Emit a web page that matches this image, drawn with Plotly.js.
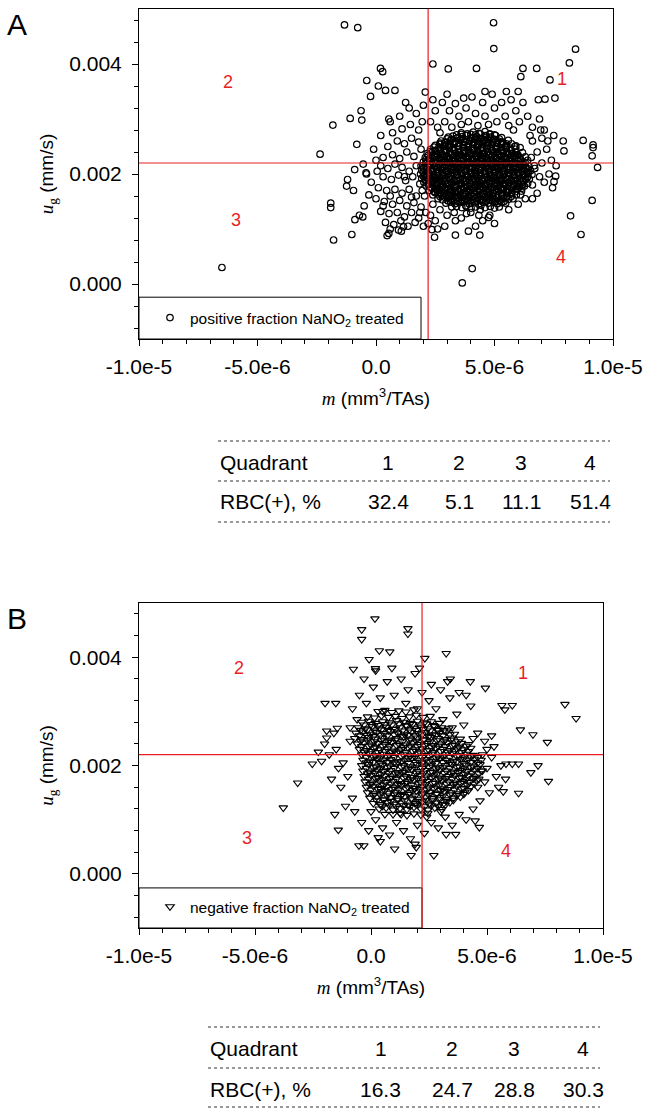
<!DOCTYPE html>
<html>
<head>
<meta charset="utf-8">
<script src="https://cdn.plot.ly/plotly-3.0.1.min.js"></script>
<style>html,body{margin:0;padding:0;background:#fff;}#chart{width:648px;height:1115px;}</style>
</head>
<body>
<div id="chart"></div>
<script>
// ---------- DATA (m in units of 1e-6 mm^3/TAs, u_g in units of 1e-3 mm/s) ----------
const xTickVals = [-1e-5, -5e-6, 0, 5e-6, 1e-5];
const xTickText = ['-1.0e-5', '-5.0e-6', '0.0', '5.0e-6', '1.0e-5'];
const yTickVals = [0, 0.002, 0.004];
const yTickText = ['0.000', '0.002', '0.004'];

const quadrants = ['1', '2', '3', '4'];
const rbcA = [32.4, 5.1, 11.1, 51.4];
const rbcB = [16.3, 24.7, 28.8, 30.3];
const cutA = [2.2e-6, 0.0022];
const cutB = [2.2e-6, 0.0022];

// Panel A: positive fraction, dense core
const posCoreA = [
[3.4,1.41],[3.62,1.39],[3.8,1.42],[4.01,1.38],[4.2,1.40],[4.43,1.43],[4.6,1.39],[4.82,1.41],[5.0,1.38],
[2.95,1.47],[3.15,1.49],[3.33,1.46],[3.55,1.48],[3.74,1.5],[3.93,1.46],[4.15,1.48],[4.33,1.45],[4.52,1.49],[4.74,1.47],[4.93,1.5],[5.12,1.46],[5.3,1.48],[5.47,1.47],
[2.62,1.55],[2.8,1.53],[3.02,1.56],[3.2,1.54],[3.41,1.57],[3.6,1.53],[3.8,1.55],[3.98,1.52],[4.2,1.56],[4.4,1.54],[4.58,1.57],[4.8,1.53],[4.98,1.55],[5.2,1.52],[5.38,1.56],[5.6,1.54],[5.78,1.55],
[2.4,1.62],[2.6,1.64],[2.78,1.61],[3.0,1.63],[3.18,1.6],[3.38,1.64],[3.57,1.62],[3.78,1.65],[3.97,1.61],[4.17,1.63],[4.36,1.6],[4.55,1.64],[4.75,1.62],[4.95,1.65],[5.14,1.61],[5.33,1.63],[5.53,1.6],[5.72,1.64],[5.92,1.62],
[2.25,1.7],[2.45,1.68],[2.63,1.71],[2.84,1.69],[3.03,1.72],[3.22,1.68],[3.43,1.7],[3.62,1.73],[3.82,1.69],[4.0,1.71],[4.22,1.68],[4.4,1.72],[4.6,1.7],[4.8,1.67],[5.0,1.71],[5.18,1.69],[5.38,1.72],[5.58,1.68],[5.77,1.7],[5.96,1.73],[6.14,1.69],
[2.12,1.78],[2.32,1.76],[2.52,1.79],[2.7,1.77],[2.9,1.75],[3.1,1.79],[3.3,1.77],[3.5,1.8],[3.7,1.76],[3.88,1.78],[4.08,1.75],[4.28,1.79],[4.48,1.77],[4.68,1.8],[4.87,1.76],[5.07,1.78],[5.27,1.75],[5.46,1.79],[5.66,1.77],[5.86,1.8],[6.05,1.76],[6.26,1.78],
[2.02,1.85],[2.21,1.83],[2.41,1.86],[2.6,1.84],[2.79,1.87],[3.0,1.83],[3.19,1.85],[3.4,1.88],[3.58,1.84],[3.79,1.86],[3.99,1.83],[4.2,1.87],[4.38,1.85],[4.6,1.82],[4.79,1.86],[5.0,1.84],[5.2,1.87],[5.39,1.83],[5.6,1.85],[5.8,1.88],[6.0,1.84],[6.21,1.86],[6.4,1.83],
[1.93,1.92],[2.12,1.94],[2.3,1.91],[2.5,1.93],[2.69,1.95],[2.9,1.91],[3.1,1.93],[3.29,1.9],[3.5,1.94],[3.68,1.92],[3.9,1.95],[4.1,1.91],[4.3,1.93],[4.49,1.9],[4.7,1.94],[4.9,1.92],[5.1,1.95],[5.3,1.91],[5.49,1.93],[5.7,1.9],[5.9,1.94],[6.1,1.92],[6.3,1.95],[6.47,1.91],
[1.88,2.0],[2.05,1.98],[2.25,2.01],[2.44,1.99],[2.64,2.02],[2.83,1.98],[3.04,2.0],[3.24,2.03],[3.43,1.99],[3.63,2.01],[3.83,1.97],[4.03,2.02],[4.22,2.0],[4.42,1.98],[4.62,2.01],[4.83,1.99],[5.02,2.03],[5.22,1.98],[5.41,2.0],[5.62,2.02],[5.82,1.98],[6.02,2.01],[6.22,1.99],[6.42,2.02],[6.58,1.99],
[1.93,2.07],[2.14,2.09],[2.34,2.06],[2.55,2.08],[2.74,2.1],[2.94,2.06],[3.14,2.08],[3.35,2.05],[3.55,2.09],[3.74,2.07],[3.94,2.1],[4.15,2.06],[4.34,2.08],[4.53,2.05],[4.73,2.09],[4.94,2.07],[5.13,2.1],[5.33,2.06],[5.53,2.08],[5.74,2.05],[5.93,2.09],[6.13,2.07],[6.33,2.1],[6.52,2.06],
[1.9,2.15],[2.08,2.13],[2.28,2.16],[2.47,2.14],[2.67,2.17],[2.87,2.13],[3.07,2.15],[3.27,2.12],[3.46,2.16],[3.66,2.14],[3.86,2.17],[4.06,2.13],[4.26,2.15],[4.46,2.18],[4.65,2.14],[4.85,2.16],[5.05,2.13],[5.25,2.15],[5.45,2.17],[5.65,2.13],[5.85,2.15],[6.05,2.12],[6.25,2.16],[6.45,2.14],[6.68,2.15],
[2.0,2.22],[2.19,2.24],[2.4,2.21],[2.6,2.23],[2.79,2.25],[3.0,2.21],[3.2,2.23],[3.39,2.2],[3.6,2.24],[3.8,2.22],[4.0,2.25],[4.19,2.21],[4.4,2.23],[4.6,2.2],[4.8,2.24],[5.0,2.22],[5.19,2.25],[5.4,2.21],[5.6,2.23],[5.8,2.2],[6.0,2.24],[6.2,2.22],[6.4,2.25],
[2.08,2.3],[2.28,2.28],[2.48,2.31],[2.68,2.29],[2.88,2.32],[3.08,2.28],[3.28,2.3],[3.48,2.33],[3.68,2.29],[3.88,2.31],[4.08,2.27],[4.28,2.32],[4.48,2.3],[4.68,2.28],[4.88,2.31],[5.08,2.29],[5.28,2.32],[5.48,2.28],[5.68,2.3],[5.88,2.33],[6.08,2.29],[6.3,2.31],
[2.16,2.37],[2.36,2.39],[2.56,2.36],[2.76,2.38],[2.96,2.4],[3.16,2.36],[3.36,2.38],[3.56,2.35],[3.76,2.39],[3.96,2.37],[4.16,2.4],[4.36,2.36],[4.56,2.38],[4.76,2.35],[4.96,2.39],[5.16,2.37],[5.36,2.4],[5.56,2.36],[5.76,2.38],[5.96,2.35],[6.18,2.39],
[2.3,2.45],[2.5,2.43],[2.7,2.46],[2.9,2.44],[3.1,2.47],[3.3,2.43],[3.5,2.45],[3.7,2.48],[3.9,2.44],[4.1,2.46],[4.3,2.42],[4.5,2.47],[4.7,2.45],[4.9,2.43],[5.1,2.46],[5.3,2.44],[5.5,2.47],[5.7,2.43],[5.9,2.45],[6.08,2.48],
[2.5,2.52],[2.7,2.54],[2.9,2.51],[3.1,2.53],[3.3,2.55],[3.5,2.51],[3.7,2.53],[3.9,2.5],[4.1,2.54],[4.3,2.52],[4.5,2.55],[4.7,2.51],[4.9,2.53],[5.1,2.5],[5.3,2.54],[5.5,2.52],[5.72,2.55],[5.9,2.51],
[2.75,2.6],[2.95,2.58],[3.15,2.61],[3.35,2.59],[3.55,2.62],[3.75,2.58],[3.95,2.6],[4.15,2.63],[4.35,2.59],[4.55,2.61],[4.75,2.57],[4.95,2.62],[5.15,2.6],[5.35,2.58],[5.58,2.61],
[3.05,2.67],[3.25,2.69],[3.45,2.66],[3.65,2.68],[3.85,2.7],[4.05,2.66],[4.25,2.68],[4.45,2.65],[4.65,2.69],[4.85,2.67],[5.05,2.7],[5.3,2.66],
[3.6,2.75],[3.85,2.73],[4.1,2.76],[4.35,2.74],[4.6,2.77],[4.8,2.73]
];
// Panel A: additional points packed inside the densest part of the core
const posDenseA = [
[3.05,1.51],[3.25,1.52],[3.45,1.5],[3.65,1.52],[3.85,1.51],[4.05,1.53],[4.25,1.5],[4.45,1.52],[4.65,1.51],[4.85,1.53],[5.05,1.5],[5.25,1.52],
[2.7,1.59],[2.9,1.58],[3.1,1.6],[3.3,1.59],[3.5,1.57],[3.7,1.6],[3.9,1.58],[4.1,1.59],[4.3,1.57],[4.5,1.6],[4.7,1.58],[4.9,1.59],[5.1,1.57],[5.3,1.6],[5.5,1.58],[5.7,1.59],
[2.5,1.66],[2.7,1.67],[2.9,1.65],[3.1,1.67],[3.3,1.66],[3.5,1.68],[3.7,1.65],[3.9,1.67],[4.1,1.66],[4.3,1.68],[4.5,1.65],[4.7,1.67],[4.9,1.66],[5.1,1.68],[5.3,1.65],[5.5,1.67],[5.7,1.66],[5.9,1.68],
[2.35,1.74],[2.55,1.73],[2.75,1.75],[2.95,1.74],[3.15,1.72],[3.35,1.75],[3.55,1.73],[3.75,1.74],[3.95,1.72],[4.15,1.75],[4.35,1.73],[4.55,1.74],[4.75,1.72],[4.95,1.75],[5.15,1.73],[5.35,1.74],[5.55,1.72],[5.75,1.75],[5.95,1.73],[6.15,1.74],
[2.2,1.81],[2.4,1.82],[2.6,1.8],[2.8,1.82],[3.0,1.81],[3.2,1.83],[3.4,1.8],[3.6,1.82],[3.8,1.81],[4.0,1.83],[4.2,1.8],[4.4,1.82],[4.6,1.81],[4.8,1.83],[5.0,1.8],[5.2,1.82],[5.4,1.81],[5.6,1.83],[5.8,1.8],[6.0,1.82],[6.2,1.81],
[2.1,1.89],[2.3,1.88],[2.5,1.9],[2.7,1.89],[2.9,1.87],[3.1,1.9],[3.3,1.88],[3.5,1.89],[3.7,1.87],[3.9,1.9],[4.1,1.88],[4.3,1.89],[4.5,1.87],[4.7,1.9],[4.9,1.88],[5.1,1.89],[5.3,1.87],[5.5,1.9],[5.7,1.88],[5.9,1.89],[6.1,1.87],[6.3,1.9],
[2.0,1.96],[2.2,1.97],[2.4,1.95],[2.6,1.97],[2.8,1.96],[3.0,1.98],[3.2,1.95],[3.4,1.97],[3.6,1.96],[3.8,1.98],[4.0,1.95],[4.2,1.97],[4.4,1.96],[4.6,1.98],[4.8,1.95],[5.0,1.97],[5.2,1.96],[5.4,1.98],[5.6,1.95],[5.8,1.97],[6.0,1.96],[6.2,1.98],[6.4,1.95],
[2.0,2.04],[2.2,2.03],[2.4,2.05],[2.6,2.04],[2.8,2.02],[3.0,2.05],[3.2,2.03],[3.4,2.04],[3.6,2.02],[3.8,2.05],[4.0,2.03],[4.2,2.04],[4.4,2.02],[4.6,2.05],[4.8,2.03],[5.0,2.04],[5.2,2.02],[5.4,2.05],[5.6,2.03],[5.8,2.04],[6.0,2.02],[6.2,2.05],[6.4,2.03],
[2.0,2.11],[2.2,2.12],[2.4,2.1],[2.6,2.12],[2.8,2.11],[3.0,2.13],[3.2,2.1],[3.4,2.12],[3.6,2.11],[3.8,2.13],[4.0,2.1],[4.2,2.12],[4.4,2.11],[4.6,2.13],[4.8,2.1],[5.0,2.12],[5.2,2.11],[5.4,2.13],[5.6,2.1],[5.8,2.12],[6.0,2.11],[6.2,2.13],[6.4,2.1],
[2.1,2.19],[2.3,2.18],[2.5,2.2],[2.7,2.19],[2.9,2.17],[3.1,2.2],[3.3,2.18],[3.5,2.19],[3.7,2.17],[3.9,2.2],[4.1,2.18],[4.3,2.19],[4.5,2.17],[4.7,2.2],[4.9,2.18],[5.1,2.19],[5.3,2.17],[5.5,2.2],[5.7,2.18],[5.9,2.19],[6.1,2.17],[6.3,2.2],
[2.1,2.26],[2.3,2.27],[2.5,2.25],[2.7,2.27],[2.9,2.26],[3.1,2.28],[3.3,2.25],[3.5,2.27],[3.7,2.26],[3.9,2.28],[4.1,2.25],[4.3,2.27],[4.5,2.26],[4.7,2.28],[4.9,2.25],[5.1,2.27],[5.3,2.26],[5.5,2.28],[5.7,2.25],[5.9,2.27],[6.1,2.26],
[2.2,2.34],[2.4,2.33],[2.6,2.35],[2.8,2.34],[3.0,2.32],[3.2,2.35],[3.4,2.33],[3.6,2.34],[3.8,2.32],[4.0,2.35],[4.2,2.33],[4.4,2.34],[4.6,2.32],[4.8,2.35],[5.0,2.33],[5.2,2.34],[5.4,2.32],[5.6,2.35],[5.8,2.33],[6.0,2.34],
[2.3,2.41],[2.5,2.42],[2.7,2.4],[2.9,2.42],[3.1,2.41],[3.3,2.43],[3.5,2.4],[3.7,2.42],[3.9,2.41],[4.1,2.43],[4.3,2.4],[4.5,2.42],[4.7,2.41],[4.9,2.43],[5.1,2.4],[5.3,2.42],[5.5,2.41],[5.7,2.43],[5.9,2.4],
[2.45,2.49],[2.65,2.48],[2.85,2.5],[3.05,2.49],[3.25,2.47],[3.45,2.5],[3.65,2.48],[3.85,2.49],[4.05,2.47],[4.25,2.5],[4.45,2.48],[4.65,2.49],[4.85,2.47],[5.05,2.5],[5.25,2.48],[5.45,2.49],[5.65,2.47],[5.85,2.5],
[2.7,2.56],[2.9,2.57],[3.1,2.55],[3.3,2.57],[3.5,2.56],[3.7,2.58],[3.9,2.55],[4.1,2.57],[4.3,2.56],[4.5,2.58],[4.7,2.55],[4.9,2.57],[5.1,2.56],[5.3,2.58],[5.5,2.55],
[3.0,2.64],[3.2,2.63],[3.4,2.65],[3.6,2.64],[3.8,2.62],[4.0,2.65],[4.2,2.63],[4.4,2.64],[4.6,2.62],[4.8,2.65],[5.0,2.63],[5.2,2.64],
[3.4,2.71],[3.6,2.72],[3.8,2.7],[4.0,2.72],[4.2,2.71],[4.4,2.73],[4.6,2.7],[4.8,2.72],[5.0,2.71]
];
// Panel A: scattered points around the core
const posSpreadA = [
[0.2,2.15],[0.5,2.1],[0.8,2.18],[1.1,2.12],[1.4,2.05],[1.7,2.15],[0.3,1.95],[0.65,1.9],[0.95,1.98],[1.25,1.88],[1.55,1.95],[1.85,1.82],[-0.2,1.85],[0.1,1.75],[0.45,1.7],[0.8,1.72],[1.1,1.65],[1.4,1.72],[1.7,1.6],[0.0,1.55],[0.35,1.5],[0.7,1.45],[1.0,1.52],[1.3,1.42],[1.6,1.48],[1.9,1.4],[-0.3,1.62],[0.2,1.32],[0.55,1.28],[0.9,1.3],[1.2,1.22],[1.5,1.3],[1.8,1.2],[0.4,1.12],[0.75,1.08],[1.05,1.15],[1.35,1.05],[1.65,1.12],[2.0,1.05],[0.6,1.0],[-0.5,1.42],[-0.7,1.25],[0.95,0.98],[2.05,1.6],[2.1,1.3],[-0.4,2.0],[-0.9,2.08],[-1.2,1.9],[0.05,2.05],[1.95,1.7],[1.2,1.95],[0.6,1.6],[1.5,1.58],[0.3,1.42],[1.85,1.3],
[0.3,2.3],[0.7,2.35],[1.0,2.28],[1.3,2.4],[1.6,2.32],[1.9,2.45],[0.5,2.5],[0.9,2.6],[1.2,2.55],[1.5,2.65],[1.8,2.58],[0.2,2.7],[0.7,2.75],[1.1,2.82],[1.45,2.9],[1.8,2.8],[1.0,3.05],[1.4,3.2],[1.7,3.1],[2.0,3.25],[0.6,2.95],[-0.1,2.45],[0.0,2.25],[1.95,2.95],[1.25,3.3],
[2.3,2.95],[2.5,3.15],[2.6,2.85],[2.8,3.3],[2.9,2.95],[3.1,3.15],[3.2,2.85],[3.35,3.28],[3.5,3.05],[3.6,2.9],[3.8,3.2],[3.9,2.95],[4.05,3.4],[4.2,3.1],[4.3,2.88],[4.5,3.3],[4.6,3.05],[4.75,2.9],[4.9,3.45],[5.0,3.2],[5.1,2.95],[5.3,3.3],[5.45,3.05],[5.6,2.88],[5.7,3.35],[5.9,3.15],[6.05,2.95],[6.2,3.3],[6.4,3.05],[6.6,2.85],[6.9,3.0],[7.1,2.8],[3.0,3.45],[4.6,3.5],[5.5,3.5],[2.4,3.35],[3.7,3.38],[6.0,3.5],[2.7,2.75],[5.8,2.8],
[6.6,2.6],[6.8,2.4],[7.0,2.2],[6.7,2.1],[6.9,1.95],[6.6,1.8],[7.2,2.45],[7.4,2.25],[7.1,1.85],[6.8,1.65],[7.3,2.0],[6.5,2.7],[7.0,2.65],[7.5,2.7],[7.6,2.15],[6.6,1.55],[6.95,2.8],[7.25,2.6],[6.55,2.3],[7.45,1.75],
[2.4,1.45],[2.7,1.35],[3.0,1.25],[2.5,1.15],[2.9,1.05],[3.3,1.3],[3.6,1.2],[4.0,1.3],[4.4,1.35],[4.8,1.25],[5.2,1.4],[5.6,1.35],[6.0,1.45],[6.3,1.55],[5.0,1.1],[4.5,1.15],[3.2,1.4],[2.3,1.25],[5.4,1.5],[6.1,1.62],[2.6,1.0],[3.8,1.42],[4.2,1.05],[2.2,1.1]
];
// Panel A: isolated outliers
const posOutA = [
[-1.33,4.71],[-0.77,4.66],[4.96,4.75],[4.97,4.28],[8.42,4.27],[8.16,4.02],[2.40,4.0],[3.05,3.91],[4.24,3.92],[6.2,3.92],[6.78,3.92],[6.11,3.77],[7.34,3.71],[0.19,3.92],[0.28,3.86],[-0.39,3.70],[0.1,3.6],[0.4,3.52],[0.8,3.52],[-0.23,3.41],[2.08,3.49],[7.55,3.38],[7.13,3.36],[6.85,3.35],[-0.63,3.15],[-1.09,3.01],[-1.82,2.89],[-0.6,2.98],[0.54,3.0],[-0.81,2.54],[-2.36,2.36],[7.9,2.6],[8.74,2.61],[9.16,2.53],[9.16,2.48],[9.12,2.33],[7.93,2.42],[9.35,2.12],[7.58,1.96],[7.51,1.86],[9.12,1.52],[8.21,1.24],[8.65,0.9],[4.06,0.28],[3.64,0.02],[-6.5,0.30],[-1.79,0.8],[-1.02,0.9],[-1.91,1.47],[-1.91,1.39],[-1.24,1.78],[-0.95,1.70],[-0.54,2.18],[-0.42,2.02],[-0.56,1.22],[-0.89,1.17],[0.47,0.88],[0.54,0.92],[2.47,0.85],[3.35,0.89],[3.9,0.96],[4.38,0.89],[3.35,1.15],[4.75,1.21],[4.34,1.25],[3.82,1.28],[2.36,0.99],[1.07,0.96],[1.16,1.04]
];

// Panel B: negative fraction, core
const negCoreB = [
[0.95,1.1],[1.25,1.12],[1.55,1.08],[1.85,1.11],[2.15,1.09],[2.45,1.12],
[0.35,1.2],[0.65,1.22],[0.95,1.18],[1.25,1.21],[1.55,1.19],[1.85,1.23],[2.15,1.2],[2.45,1.18],[2.75,1.22],[3.05,1.19],
[0.1,1.3],[0.4,1.28],[0.7,1.32],[1.0,1.29],[1.3,1.31],[1.6,1.27],[1.9,1.3],[2.2,1.33],[2.5,1.29],[2.8,1.31],[3.1,1.28],[3.4,1.32],
[-0.05,1.4],[0.25,1.42],[0.55,1.38],[0.85,1.41],[1.15,1.39],[1.45,1.43],[1.75,1.4],[2.05,1.38],[2.35,1.42],[2.65,1.39],[2.95,1.41],[3.25,1.37],[3.55,1.4],[3.85,1.42],
[-0.15,1.5],[0.15,1.48],[0.45,1.52],[0.75,1.49],[1.05,1.51],[1.35,1.47],[1.65,1.5],[1.95,1.53],[2.25,1.49],[2.55,1.51],[2.85,1.48],[3.15,1.52],[3.45,1.5],[3.75,1.48],[4.05,1.51],
[-0.2,1.6],[0.1,1.62],[0.4,1.58],[0.7,1.61],[1.0,1.59],[1.3,1.63],[1.6,1.6],[1.9,1.58],[2.2,1.62],[2.5,1.59],[2.8,1.61],[3.1,1.57],[3.4,1.6],[3.7,1.62],[4.0,1.58],[4.3,1.61],
[-0.25,1.7],[0.05,1.68],[0.35,1.72],[0.65,1.69],[0.95,1.71],[1.25,1.67],[1.55,1.7],[1.85,1.73],[2.15,1.69],[2.45,1.71],[2.75,1.68],[3.05,1.72],[3.35,1.7],[3.65,1.68],[3.95,1.71],[4.25,1.69],[4.55,1.72],
[-0.3,1.8],[0.0,1.82],[0.3,1.78],[0.6,1.81],[0.9,1.79],[1.2,1.83],[1.5,1.8],[1.8,1.78],[2.1,1.82],[2.4,1.79],[2.7,1.81],[3.0,1.77],[3.3,1.8],[3.6,1.82],[3.9,1.78],[4.2,1.81],[4.5,1.79],
[-0.35,1.9],[-0.05,1.88],[0.25,1.92],[0.55,1.89],[0.85,1.91],[1.15,1.87],[1.45,1.9],[1.75,1.93],[2.05,1.89],[2.35,1.91],[2.65,1.88],[2.95,1.92],[3.25,1.9],[3.55,1.88],[3.85,1.91],[4.15,1.89],[4.45,1.92],[4.75,1.9],
[-0.4,2.0],[-0.1,2.02],[0.2,1.98],[0.5,2.01],[0.8,1.99],[1.1,2.03],[1.4,2.0],[1.7,1.98],[2.0,2.02],[2.3,1.99],[2.6,2.01],[2.9,1.97],[3.2,2.0],[3.5,2.02],[3.8,1.98],[4.1,2.01],[4.4,1.99],[4.7,2.02],
[-0.35,2.1],[-0.05,2.08],[0.25,2.12],[0.55,2.09],[0.85,2.11],[1.15,2.07],[1.45,2.1],[1.75,2.13],[2.05,2.09],[2.35,2.11],[2.65,2.08],[2.95,2.12],[3.25,2.1],[3.55,2.08],[3.85,2.11],[4.15,2.09],[4.45,2.12],[4.75,2.1],
[-0.4,2.2],[-0.1,2.22],[0.2,2.18],[0.5,2.21],[0.8,2.19],[1.1,2.23],[1.4,2.2],[1.7,2.18],[2.0,2.22],[2.3,2.19],[2.6,2.21],[2.9,2.17],[3.2,2.2],[3.5,2.22],[3.8,2.18],[4.1,2.21],[4.4,2.19],
[-0.5,2.3],[-0.2,2.28],[0.1,2.32],[0.4,2.29],[0.7,2.31],[1.0,2.27],[1.3,2.3],[1.6,2.33],[1.9,2.29],[2.2,2.31],[2.5,2.28],[2.8,2.32],[3.1,2.3],[3.4,2.28],[3.7,2.31],[4.0,2.29],[4.3,2.32],
[-0.6,2.4],[-0.3,2.42],[0.0,2.38],[0.3,2.41],[0.6,2.39],[0.9,2.43],[1.2,2.4],[1.5,2.38],[1.8,2.42],[2.1,2.39],[2.4,2.41],[2.7,2.37],[3.0,2.4],[3.3,2.42],[3.6,2.38],[3.9,2.41],[4.2,2.39],
[-0.7,2.5],[-0.4,2.48],[-0.1,2.52],[0.2,2.49],[0.5,2.51],[0.8,2.47],[1.1,2.5],[1.4,2.53],[1.7,2.49],[2.0,2.51],[2.3,2.48],[2.6,2.52],[2.9,2.5],[3.2,2.48],[3.5,2.51],[3.85,2.49],
[-0.65,2.6],[-0.35,2.62],[-0.05,2.58],[0.25,2.61],[0.55,2.59],[0.85,2.63],[1.15,2.6],[1.45,2.58],[1.75,2.62],[2.05,2.59],[2.35,2.61],[2.65,2.57],[2.95,2.6],[3.25,2.62],[3.6,2.58],
[-0.55,2.7],[-0.25,2.68],[0.05,2.72],[0.35,2.69],[0.65,2.71],[0.95,2.67],[1.25,2.7],[1.55,2.73],[1.85,2.69],[2.15,2.71],[2.45,2.68],[2.75,2.72],[3.05,2.7],[3.35,2.68],
[-0.4,2.8],[-0.1,2.82],[0.2,2.78],[0.5,2.81],[0.8,2.79],[1.1,2.83],[1.4,2.8],[1.7,2.78],[2.0,2.82],[2.3,2.79],[2.6,2.81],[2.95,2.78],
[-0.15,2.9],[0.15,2.88],[0.45,2.92],[0.75,2.89],[1.05,2.91],[1.35,2.87],[1.65,2.9],[1.95,2.93],[2.25,2.89],[2.55,2.91],
[0.3,3.0],[0.6,3.02],[0.9,2.98],[1.2,3.01],[1.5,2.99],[1.85,3.03]
];
// Panel B: additional points packed inside the densest part
const negDenseB = [
[0.5,1.25],[0.8,1.26],[1.1,1.24],[1.4,1.26],[1.7,1.25],[2.0,1.27],[2.3,1.24],[2.6,1.26],[2.9,1.25],[3.2,1.27],
[0.25,1.35],[0.55,1.36],[0.85,1.34],[1.15,1.36],[1.45,1.35],[1.75,1.37],[2.05,1.34],[2.35,1.36],[2.65,1.35],[2.95,1.37],[3.25,1.34],[3.55,1.36],
[0.1,1.45],[0.4,1.46],[0.7,1.44],[1.0,1.46],[1.3,1.45],[1.6,1.47],[1.9,1.44],[2.2,1.46],[2.5,1.45],[2.8,1.47],[3.1,1.44],[3.4,1.46],[3.7,1.45],[4.0,1.47],
[0.0,1.55],[0.3,1.56],[0.6,1.54],[0.9,1.56],[1.2,1.55],[1.5,1.57],[1.8,1.54],[2.1,1.56],[2.4,1.55],[2.7,1.57],[3.0,1.54],[3.3,1.56],[3.6,1.55],[3.9,1.57],[4.2,1.54],
[-0.05,1.65],[0.25,1.66],[0.55,1.64],[0.85,1.66],[1.15,1.65],[1.45,1.67],[1.75,1.64],[2.05,1.66],[2.35,1.65],[2.65,1.67],[2.95,1.64],[3.25,1.66],[3.55,1.65],[3.85,1.67],[4.15,1.64],[4.45,1.66],
[-0.1,1.75],[0.2,1.76],[0.5,1.74],[0.8,1.76],[1.1,1.75],[1.4,1.77],[1.7,1.74],[2.0,1.76],[2.3,1.75],[2.6,1.77],[2.9,1.74],[3.2,1.76],[3.5,1.75],[3.8,1.77],[4.1,1.74],[4.4,1.76],[4.65,1.75],
[-0.15,1.85],[0.15,1.86],[0.45,1.84],[0.75,1.86],[1.05,1.85],[1.35,1.87],[1.65,1.84],[1.95,1.86],[2.25,1.85],[2.55,1.87],[2.85,1.84],[3.15,1.86],[3.45,1.85],[3.75,1.87],[4.05,1.84],[4.35,1.86],[4.65,1.85],
[-0.2,1.95],[0.1,1.96],[0.4,1.94],[0.7,1.96],[1.0,1.95],[1.3,1.97],[1.6,1.94],[1.9,1.96],[2.2,1.95],[2.5,1.97],[2.8,1.94],[3.1,1.96],[3.4,1.95],[3.7,1.97],[4.0,1.94],[4.3,1.96],[4.6,1.95],
[-0.2,2.05],[0.1,2.06],[0.4,2.04],[0.7,2.06],[1.0,2.05],[1.3,2.07],[1.6,2.04],[1.9,2.06],[2.2,2.05],[2.5,2.07],[2.8,2.04],[3.1,2.06],[3.4,2.05],[3.7,2.07],[4.0,2.04],[4.3,2.06],[4.6,2.05],
[-0.2,2.15],[0.1,2.16],[0.4,2.14],[0.7,2.16],[1.0,2.15],[1.3,2.17],[1.6,2.14],[1.9,2.16],[2.2,2.15],[2.5,2.17],[2.8,2.14],[3.1,2.16],[3.4,2.15],[3.7,2.17],[4.0,2.14],[4.3,2.16],[4.6,2.15],
[-0.3,2.25],[0.0,2.26],[0.3,2.24],[0.6,2.26],[0.9,2.25],[1.2,2.27],[1.5,2.24],[1.8,2.26],[2.1,2.25],[2.4,2.27],[2.7,2.24],[3.0,2.26],[3.3,2.25],[3.6,2.27],[3.9,2.24],[4.2,2.26],
[-0.4,2.35],[-0.1,2.36],[0.2,2.34],[0.5,2.36],[0.8,2.35],[1.1,2.37],[1.4,2.34],[1.7,2.36],[2.0,2.35],[2.3,2.37],[2.6,2.34],[2.9,2.36],[3.2,2.35],[3.5,2.37],[3.8,2.34],[4.1,2.36],
[-0.45,2.45],[-0.15,2.46],[0.15,2.44],[0.45,2.46],[0.75,2.45],[1.05,2.47],[1.35,2.44],[1.65,2.46],[1.95,2.45],[2.25,2.47],[2.55,2.44],[2.85,2.46],[3.15,2.45],[3.45,2.47],[3.75,2.44],
[-0.5,2.55],[-0.2,2.56],[0.1,2.54],[0.4,2.56],[0.7,2.55],[1.0,2.57],[1.3,2.54],[1.6,2.56],[1.9,2.55],[2.2,2.57],[2.5,2.54],[2.8,2.56],[3.1,2.55],[3.4,2.57],
[-0.45,2.65],[-0.15,2.66],[0.15,2.64],[0.45,2.66],[0.75,2.65],[1.05,2.67],[1.35,2.64],[1.65,2.66],[1.95,2.65],[2.25,2.67],[2.55,2.64],[2.85,2.66],[3.15,2.65],
[-0.3,2.75],[0.0,2.76],[0.3,2.74],[0.6,2.76],[0.9,2.75],[1.2,2.77],[1.5,2.74],[1.8,2.76],[2.1,2.75],[2.4,2.77],[2.7,2.74]
];
// Panel B: scattered points around the core
const negSpreadB = [
[-0.8,3.05],[-0.5,3.3],[-0.2,3.15],[0.1,3.45],[0.4,3.25],[0.7,3.55],[1.0,3.3],[1.3,3.6],[1.6,3.4],[1.9,3.7],[2.2,3.35],[2.5,3.2],[-0.3,3.6],[0.2,3.75],[0.9,3.8],[1.5,3.15],[2.0,3.05],[-0.6,2.85],[2.6,3.5],[0.5,3.0],
[2.8,3.05],[3.1,2.85],[3.4,3.25],[3.0,3.4],[3.7,2.95],[4.0,2.75],[4.3,3.1],[3.5,2.7],[4.6,2.6],[4.9,2.45],[4.4,2.5],[3.8,3.35],[5.2,2.55],[4.1,3.3],[3.3,3.55],[2.9,2.65],
[-1.5,2.3],[-1.2,2.05],[-0.9,2.45],[-1.0,1.8],[-1.3,1.6],[-0.8,1.4],[-1.6,2.6],[-1.8,2.2],[-0.9,2.7],[-1.1,1.25],[-1.4,1.95],[-0.7,1.15],[-2.0,2.4],[-1.7,1.75],
[4.8,2.2],[5.0,1.95],[5.2,2.15],[4.9,1.7],[5.4,1.8],[5.1,1.5],[4.7,1.35],[5.6,2.0],[5.3,2.35],[4.8,1.9],[5.0,2.3],[4.6,1.6],[5.5,1.6],[5.8,1.75],
[-0.4,0.95],[-0.1,0.8],[0.2,1.0],[0.5,0.85],[0.8,0.72],[1.1,0.95],[1.4,0.8],[1.7,0.65],[2.0,0.9],[2.3,0.75],[2.6,0.95],[2.9,0.85],[3.2,1.05],[3.5,0.9],[3.8,1.1],[4.1,1.0],[4.4,1.2],[0.0,1.15],[0.6,1.1],[1.3,1.1],[2.4,1.05],[3.0,1.15],[1.9,0.55],[0.4,0.6]
];
// Panel B: isolated outliers
const negOutB = [
[0.17,4.71],[-0.4,4.51],[-0.4,4.33],[1.59,4.53],[1.59,4.43],[3.24,4.07],[0.36,4.12],[0.81,4.1],[2.32,3.98],[2.09,3.8],[-0.08,3.96],[0.19,3.79],[-0.76,3.78],[-1.98,3.15],[-1.52,3.15],[8.36,3.13],[8.84,2.87],[7.6,2.43],[6.98,2.57],[6.44,2.66],[6.09,3.11],[5.64,3.11],[5.77,3.03],[4.93,3.43],[4.28,3.55],[3.42,3.6],[7.65,1.71],[7.2,2.0],[6.89,1.87],[6.36,1.49],[5.7,1.52],[6.36,2.03],[5.82,2.03],[6.09,2.03],[-3.16,1.68],[-3.78,1.22],[-2.53,2.03],[-2.27,2.25],[-2.13,2.08],[-1.91,2.64],[-1.91,2.51],[-1.45,2.69],[-0.52,0.52],[-0.31,0.52],[1.73,0.34],[2.71,0.34],[1.95,0.49],[1.02,0.46],[0.31,0.67],[-1.56,1.1],[-1.41,0.81],[4.67,0.86],[4.49,0.98],[3.65,0.73],[3.24,0.73]
];

// ---------- BUILD ----------
const M_UNIT = 1e-6, U_UNIT = 1e-3;
const ptsA = posCoreA.concat(posDenseA, posSpreadA, posOutA);
const ptsB = negCoreB.concat(negDenseB, negSpreadB, negOutB);

const W = 648, H = 1115;
const px = v => v / W;
const py = v => 1 - v / H;
const RED = 'rgb(232,30,36)';
const FONT = 'Liberation Sans, Arial, sans-serif';
const SERIF = 'Liberation Serif, Times New Roman, serif';

const traces = [
  {
    type: 'scatter', mode: 'markers', name: 'positive fraction NaNO<sub>2</sub> treated',
    x: ptsA.map(p => p[0] * M_UNIT), y: ptsA.map(p => p[1] * U_UNIT),
    xaxis: 'x', yaxis: 'y', legend: 'legend',
    marker: {symbol: 'circle-open', size: 6.5, color: '#000', line: {width: 1.2, color: '#000'}},
    hoverinfo: 'skip'
  },
  {
    type: 'scatter', mode: 'markers', name: 'negative fraction NaNO<sub>2</sub> treated',
    x: ptsB.map(p => p[0] * M_UNIT), y: ptsB.map(p => p[1] * U_UNIT),
    xaxis: 'x2', yaxis: 'y2', legend: 'legend2',
    marker: {symbol: 'triangle-down-open', size: 7.5, color: '#000', line: {width: 1.1, color: '#000'}},
    hoverinfo: 'skip'
  }
];

function xAxis(domain, anchor) {
  return {
    domain: domain, anchor: anchor, range: [-1e-5, 1e-5],
    tickmode: 'array', tickvals: xTickVals, ticktext: xTickText,
    ticks: 'outside', ticklen: 6, tickwidth: 1, tickcolor: '#000',
    minor: {ticks: 'outside', ticklen: 4, tickwidth: 1, tickcolor: '#000', tick0: 0, dtick: 1e-6, showgrid: false},
    showline: true, linecolor: '#000', linewidth: 1, mirror: true,
    showgrid: false, zeroline: false,
    tickfont: {family: FONT, size: 21, color: '#000'},
    ticklabelstandoff: 3,
    title: {text: '<span style="font-family:' + SERIF + '"><i>m</i></span> (mm<sup>3</sup>/TAs)',
            font: {family: FONT, size: 19, color: '#000'}, standoff: 14}
  };
}
function yAxis(domain, anchor) {
  return {
    domain: domain, anchor: anchor, range: [-0.001, 0.005],
    tickmode: 'array', tickvals: yTickVals, ticktext: yTickText,
    ticks: 'outside', ticklen: 6, tickwidth: 1, tickcolor: '#000',
    minor: {ticks: 'outside', ticklen: 4, tickwidth: 1, tickcolor: '#000', tick0: 0, dtick: 0.0004, showgrid: false},
    showline: true, linecolor: '#000', linewidth: 1, mirror: true,
    showgrid: false, zeroline: false,
    tickfont: {family: FONT, size: 21, color: '#000'},
    ticklabelstandoff: 6,
    title: {text: '<span style="font-family:' + SERIF + '"><i>u</i><sub>g</sub></span> (mm/s)',
            font: {family: FONT, size: 19, color: '#000'}, standoff: 10}
  };
}

const shapes = [];
// legend boxes (data coords)
shapes.push({type: 'rect', xref: 'x', yref: 'y', x0: -1e-5, x1: 1.9e-6, y0: -0.001, y1: -0.00024,
             line: {color: '#000', width: 1}, fillcolor: 'rgba(0,0,0,0)', layer: 'above'});
shapes.push({type: 'rect', xref: 'x2', yref: 'y2', x0: -1e-5, x1: 2.2e-6, y0: -0.001, y1: -0.00026,
             line: {color: '#000', width: 1}, fillcolor: 'rgba(0,0,0,0)', layer: 'above'});
// quadrant dividing lines
shapes.push({type: 'line', xref: 'x', yref: 'paper', x0: cutA[0], x1: cutA[0], y0: py(339), y1: py(9), line: {color: RED, width: 1.2}, layer: 'above'});
shapes.push({type: 'line', xref: 'paper', yref: 'y', x0: px(139), x1: px(613), y0: cutA[1], y1: cutA[1], line: {color: RED, width: 1.2}, layer: 'above'});
shapes.push({type: 'line', xref: 'x2', yref: 'paper', x0: cutB[0], x1: cutB[0], y0: py(928), y1: py(603), line: {color: RED, width: 1.2}, layer: 'above'});
shapes.push({type: 'line', xref: 'paper', yref: 'y2', x0: px(139), x1: px(603), y0: cutB[1], y1: cutB[1], line: {color: RED, width: 1.2}, layer: 'above'});

// tables
const tables = [
  {vals: rbcA, left: 218, right: 610, lines: [441, 481, 522], rows: [462, 502], cols: [388, 459, 521, 590]},
  {vals: rbcB, left: 208, right: 600, lines: [1027, 1068, 1107], rows: [1048, 1089], cols: [381, 452, 514, 583]}
];
const annotations = [];
tables.forEach(t => {
  t.lines.forEach(yy => shapes.push({type: 'line', xref: 'paper', yref: 'paper', x0: px(t.left), x1: px(t.right),
    y0: py(yy), y1: py(yy), line: {color: '#333', width: 1, dash: '3px,3px'}}));
  const tf = {family: FONT, size: 21, color: '#000'};
  annotations.push({xref: 'paper', yref: 'paper', x: px(t.left), y: py(t.rows[0]), xanchor: 'left', yanchor: 'middle', text: 'Quadrant', showarrow: false, font: tf});
  annotations.push({xref: 'paper', yref: 'paper', x: px(t.left), y: py(t.rows[1]), xanchor: 'left', yanchor: 'middle', text: 'RBC(+), %', showarrow: false, font: tf});
  quadrants.forEach((q, i) => {
    annotations.push({xref: 'paper', yref: 'paper', x: px(t.cols[i]), y: py(t.rows[0]), xanchor: 'center', yanchor: 'middle', text: q, showarrow: false, font: tf});
    annotations.push({xref: 'paper', yref: 'paper', x: px(t.cols[i]), y: py(t.rows[1]), xanchor: 'center', yanchor: 'middle', text: t.vals[i].toFixed(1), showarrow: false, font: tf});
  });
});

// quadrant numbers
const qf = {family: FONT, size: 18, color: RED};
const qPosA = [[7.85e-6, 0.00373], [-6.25e-6, 0.00367], [-5.9e-6, 0.00116], [7.8e-6, 0.00049]];
const qPosB = [[6.53e-6, 0.0037], [-5.68e-6, 0.0038], [-5.34e-6, 0.00066], [5.82e-6, 0.00042]];
quadrants.forEach((q, i) => {
  annotations.push({xref: 'x', yref: 'y', x: qPosA[i][0], y: qPosA[i][1], text: q, showarrow: false, font: qf});
  annotations.push({xref: 'x2', yref: 'y2', x: qPosB[i][0], y: qPosB[i][1], text: q, showarrow: false, font: qf});
});

// panel letters
annotations.push({xref: 'paper', yref: 'paper', x: px(5), y: py(6), xanchor: 'left', yanchor: 'top', text: 'A', showarrow: false, font: {family: FONT, size: 30, color: '#000'}});
annotations.push({xref: 'paper', yref: 'paper', x: px(5), y: py(600), xanchor: 'left', yanchor: 'top', text: 'B', showarrow: false, font: {family: FONT, size: 30, color: '#000'}});

const legendStyle = (yy) => ({
  x: px(150), y: py(yy), xanchor: 'left', yanchor: 'middle',
  bgcolor: 'rgba(0,0,0,0)', borderwidth: 0,
  font: {family: FONT, size: 15.5, color: '#000'}
});

const layout = {
  width: W, height: H,
  margin: {l: 0, r: 0, t: 0, b: 0},
  paper_bgcolor: '#fff', plot_bgcolor: '#fff',
  font: {family: FONT, color: '#000'},
  showlegend: true,
  legend: legendStyle(318),
  legend2: legendStyle(907),
  xaxis: xAxis([px(139), px(613)], 'y'),
  yaxis: yAxis([py(339), py(9)], 'x'),
  xaxis2: xAxis([px(139), px(603)], 'y2'),
  yaxis2: yAxis([py(928), py(603)], 'x2'),
  shapes: shapes,
  annotations: annotations
};

Plotly.newPlot('chart', traces, layout, {staticPlot: true, displayModeBar: false});
</script>
</body>
</html>
